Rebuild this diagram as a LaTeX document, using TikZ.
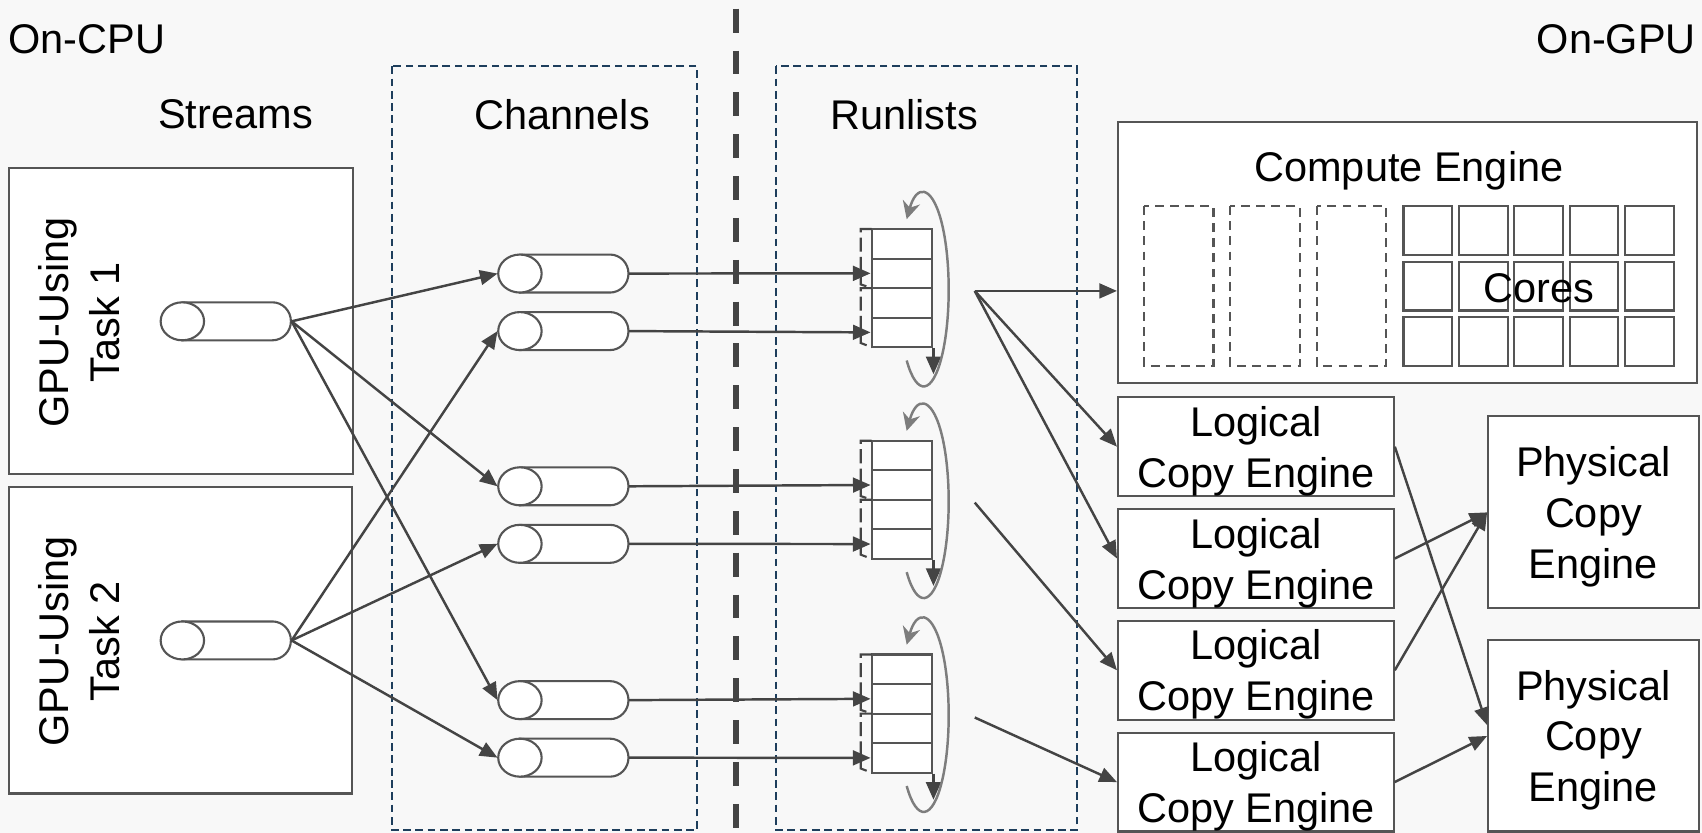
\documentclass[tikz,border=0pt]{standalone}
\usepackage{fontspec}
\setmainfont{Liberation Sans}
\usetikzlibrary{arrows.meta,calc}

\definecolor{bg}{RGB}{248,248,248}
\definecolor{ink}{RGB}{68,68,68}
\definecolor{edge}{RGB}{85,85,85}
\definecolor{navy}{RGB}{30,62,92}
\definecolor{loopgray}{RGB}{125,125,125}
\def\px{0.010855cm}

% a stream / channel tube: name, centre of the front ellipse (x, y)
\newcommand\tube[3]{%
  \node[tubebox] (#1) at ({#2+40},#3) {};
  \draw[tubeline] (#2,{#3-17.5}) -- ({#2+83},{#3-17.5})
    arc[start angle=-90,end angle=90,x radius=17,y radius=17.5]
    -- (#2,{#3+17.5}) -- cycle;
  \draw[tubeline] (#2,#3) ellipse[x radius=20,y radius=17.5];
}

% a runlist: name prefix, top edge y
\newcommand\runlist[2]{%
  \foreach \k in {1,...,4}
    \node[cell] (#1c\k) at (831,{#2+13.6+27.2*(\k-1)}) {};
  \draw[bracket] (803,#2) -- (793,#2) -- (793,{#2+51}) -- (803,{#2+54.4});
  \draw[bracket] (803,{#2+54.4}) -- (793,{#2+54.4}) -- (793,{#2+105}) -- (803,{#2+108.8});
  \draw[arr] (#1c4.south east) -- ++(0,24);
  \draw[loopline] ({851+23*cos(133)},{#2+56+89*sin(133)})
    arc[start angle=133,end angle=-133,x radius=23,y radius=89];
}

\begin{document}
\begin{tikzpicture}[x=\px,y=-\px,
  every node/.style={font=\fontsize{11.8}{14.5}\selectfont, text=black, text depth=0pt},
  box/.style 2 args={draw=edge, fill=white, line width=0.6pt, inner sep=0pt,
    align=center, minimum width={#1*\px}, minimum height={#2*\px}},
  tubebox/.style={inner sep=0pt, minimum width={120*\px}, minimum height={35*\px}},
  tubeline/.style={draw=edge, fill=white, line width=0.6pt},
  cell/.style={draw=edge, fill=white, line width=0.6pt, inner sep=0pt,
    minimum width={56*\px}, minimum height={27.2*\px}},
  bracket/.style={draw=ink, line width=0.6pt, dash pattern=on 4pt off 1.5pt},
  arr/.style={draw=ink, line width=0.7pt, -{Triangle[length=5pt,width=4.2pt]}},
  loopline/.style={draw=loopgray, line width=0.7pt, -{Stealth[length=5pt,width=5pt]}},
  group/.style={draw=navy, line width=0.6pt, dash pattern=on 2.2pt off 1.3pt},
  slot/.style={draw=edge, fill=white, line width=0.6pt, dash pattern=on 2.5pt off 1.8pt},
  core/.style={draw=edge, fill=white, line width=0.6pt},
]
\fill[bg] (0,0) rectangle (1568,767);
\useasboundingbox (0,0) rectangle (1568,767);

% channel and runlist groups, CPU/GPU divide
\draw[group] (361,61) rectangle (642,765);
\draw[group] (715,61) rectangle (992,765);
\draw[draw=ink, line width=1.8pt, dash pattern=on 6.8pt off 5.1pt] (678,8) -- (678,767);

% headings
\node[anchor=west, inner sep=0pt] (oncpu) at (7,36) {On-CPU};
\node[anchor=east, inner sep=0pt] (ongpu) at (1563,36) {On-GPU};
\node (hstreams) at (217,105) {Streams};
\node (hchannels) at (518,105) {Channels};
\node (hrunlists) at (833,105) {Runlists};

% tasks
\node[box={317}{282}] (task1) at (166.5,296) {};
\node[box={316}{282}] (task2) at (166,590) {};
\node[rotate=90, align=center] (t1label) at (73,297) {GPU-Using\\Task 1};
\node[rotate=90, align=center] (t2label) at (73,591) {GPU-Using\\Task 2};

% streams and channels
\tube{s1}{168}{296}
\tube{s2}{168}{590}
\tube{c1}{479}{252}
\tube{c2}{479}{305}
\tube{c3}{479}{448}
\tube{c4}{479}{501}
\tube{c5}{479}{645}
\tube{c6}{479}{698}

% runlists
\runlist{ra}{211}
\runlist{rb}{406}
\runlist{rc}{603}

% compute engine
\node[box={533}{241}] (ce) at (1296.5,232.5) {};
\node (cetitle) at (1298,153) {Compute Engine};
\foreach \i in {0,1,2}
  \draw[slot] ({1054+79.5*\i},190) rectangle ++(64,147);
\foreach \i in {0,...,4}
  \foreach \j in {0,1,2}
    \draw[core] ({1293+51*\i},{190+51*\j}) rectangle ++(45,45);
\node (cores) at (1418,265) {Cores};

% copy engines
\node[box={254}{91}] (l1) at (1157,411.5) {Logical\\Copy Engine};
\node[box={254}{91}] (l2) at (1157,514.5) {Logical\\Copy Engine};
\node[box={254}{91}] (l3) at (1157,617.5) {Logical\\Copy Engine};
\node[box={254}{91}] (l4) at (1157,720.5) {Logical\\Copy Engine};
\node[box={194}{177}] (p1) at (1468,472) {Physical\\Copy\\Engine};
\node[box={194}{176}] (p2) at (1468,678) {Physical\\Copy\\Engine};

% streams to channels
\draw[arr] (s1.east) -- (c1.west);
\draw[arr] (s1.east) -- (c3.west);
\draw[arr] (s1.east) -- (c5.west);
\draw[arr] (s2.east) -- (c2.west);
\draw[arr] (s2.east) -- (c4.west);
\draw[arr] (s2.east) -- (c6.west);

% channels to runlists
\draw[arr] (c1.east) -- (rac2.west);
\draw[arr] (c2.east) -- (rac4.west);
\draw[arr] (c3.east) -- (rbc2.west);
\draw[arr] (c4.east) -- (rbc4.west);
\draw[arr] (c5.east) -- (rcc2.west);
\draw[arr] (c6.east) -- (rcc4.west);

% runlists to engines
\coordinate (oa) at (898,268);
\coordinate (ob) at (898,463);
\coordinate (oc) at (898,661);
\draw[arr] (oa) -- (oa -| ce.west);
\draw[arr] (oa) -- (l1.west);
\draw[arr] (oa) -- (l2.west);
\draw[arr] (ob) -- (l3.west);
\draw[arr] (oc) -- (l4.west);

% logical to physical copy engines
\draw[arr] (l1.east) -- ($(p2.west)+(0,-10)$);
\draw[arr] (l2.east) -- (p1.west);
\draw[arr] (l3.east) -- (p1.west);
\draw[arr] (l4.east) -- (p2.west);
\end{tikzpicture}
\end{document}
